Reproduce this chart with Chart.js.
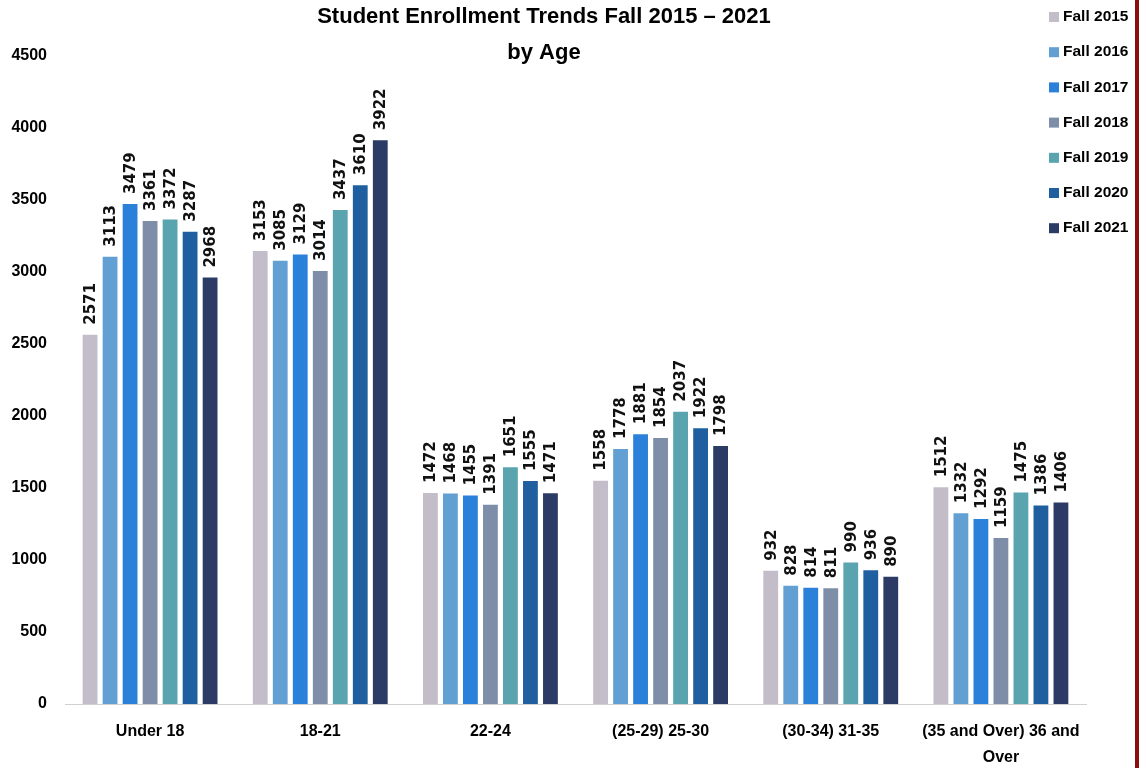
<!DOCTYPE html>
<html>
<head>
<meta charset="utf-8">
<title>Student Enrollment Trends by Age</title>
<script src="https://cdn.jsdelivr.net/npm/chart.js@4/dist/chart.umd.min.js"></script>
<style>
  body { margin: 0; background: #fff; }
  .wrap { position: relative; width: 1146px; height: 768px; overflow: hidden; }
  #chart { position: absolute; left: 0; top: 0; }
  .edge { position: absolute; left: 1135px; top: 0; width: 4px; height: 768px; background: #8c0c10; }
</style>
</head>
<body>
<div class="wrap">
  <canvas id="chart" width="1134" height="768"></canvas>
  <div class="edge"></div>
</div>
<script>
// Données du graphique
const categories = ['Under 18', '18-21', '22-24', '(25-29) 25-30', '(30-34) 31-35', ['(35 and Over) 36 and', 'Over']];
const seriesNames = ['Fall 2015', 'Fall 2016', 'Fall 2017', 'Fall 2018', 'Fall 2019', 'Fall 2020', 'Fall 2021'];
const fall2015 = [2571, 3153, 1472, 1558, 932, 1512];
const fall2016 = [3113, 3085, 1468, 1778, 828, 1332];
const fall2017 = [3479, 3129, 1455, 1881, 814, 1292];
const fall2018 = [3361, 3014, 1391, 1854, 811, 1159];
const fall2019 = [3372, 3437, 1651, 2037, 990, 1475];
const fall2020 = [3287, 3610, 1555, 1922, 936, 1386];
const fall2021 = [2968, 3922, 1471, 1798, 890, 1406];
const seriesColors = ['#c3bcc9', '#62a0d4', '#2b80da', '#7f8ea8', '#59a4ae', '#1f5f9f', '#2c3b66'];
const titleLines = ['Student Enrollment Trends Fall 2015 \u2013 2021', 'by Age'];

const allSeries = [fall2015, fall2016, fall2017, fall2018, fall2019, fall2020, fall2021];
const uiFont = "'Liberation Sans', Arial, sans-serif";

// Étiquettes de valeur verticales au-dessus des barres
const valueLabels = {
  id: 'valueLabels',
  afterDatasetsDraw(chart) {
    const ctx = chart.ctx;
    ctx.save();
    ctx.font = "bold 15px 'DejaVu Sans', Verdana, sans-serif";
    ctx.fillStyle = '#111';
    ctx.textAlign = 'left';
    ctx.textBaseline = 'middle';
    chart.data.datasets.forEach((ds, i) => {
      chart.getDatasetMeta(i).data.forEach((bar, j) => {
        ctx.save();
        ctx.translate(bar.x, bar.y - 9);
        ctx.rotate(-Math.PI / 2);
        ctx.fillText(String(ds.data[j]), 0, 1);
        ctx.restore();
      });
    });
    ctx.restore();
  }
};

// Titre et légende dessinés à la main
const titleAndLegend = {
  id: 'titleAndLegend',
  afterDraw(chart) {
    const ctx = chart.ctx;
    ctx.save();
    ctx.fillStyle = '#000';
    ctx.textAlign = 'center';
    ctx.textBaseline = 'middle';
    ctx.font = 'bold 22px ' + uiFont;
    ctx.fillText(titleLines[0], 544, 17);
    ctx.fillText(titleLines[1], 544, 53);

    ctx.textAlign = 'left';
    ctx.font = 'bold 15.5px ' + uiFont;
    seriesNames.forEach((name, i) => {
      const y = 17 + i * 35.2;
      ctx.fillStyle = seriesColors[i];
      ctx.fillRect(1049, y - 5, 10, 10);
      ctx.fillStyle = '#000';
      ctx.fillText(name, 1063, y);
    });
    ctx.restore();
  }
};

const datasets = seriesNames.map((name, i) => ({
  label: name,
  data: allSeries[i],
  backgroundColor: seriesColors[i],
  borderColor: 'rgba(255,255,255,0.35)',
  borderWidth: 1,
  categoryPercentage: 0.823,
  barPercentage: 0.84
}));

new Chart(document.getElementById('chart'), {
  type: 'bar',
  data: { labels: categories, datasets: datasets },
  options: {
    responsive: false,
    animation: false,
    layout: { padding: { top: 56, right: 48, left: 0, bottom: 0 } },
    plugins: {
      legend: { display: false },
      title: { display: false },
      tooltip: { enabled: false }
    },
    scales: {
      x: {
        grid: { display: false, drawTicks: false },
        border: { display: true, color: '#d0d0d0', width: 1 },
        ticks: {
          color: '#000',
          font: { family: uiFont, size: 16, weight: 'bold', lineHeight: 1.6 },
          padding: 15,
          maxRotation: 0,
          autoSkip: false
        },
        afterFit(scale) { scale.height = 64; }
      },
      y: {
        min: 0,
        max: 4500,
        grid: { display: false, drawTicks: false },
        border: { display: false },
        ticks: {
          stepSize: 500,
          color: '#000',
          font: { family: uiFont, size: 16, weight: 'bold' },
          padding: 18,
          callback: (value) => String(value)
        },
        afterFit(scale) { scale.width = 65; }
      }
    }
  },
  plugins: [valueLabels, titleAndLegend]
});
</script>
</body>
</html>
